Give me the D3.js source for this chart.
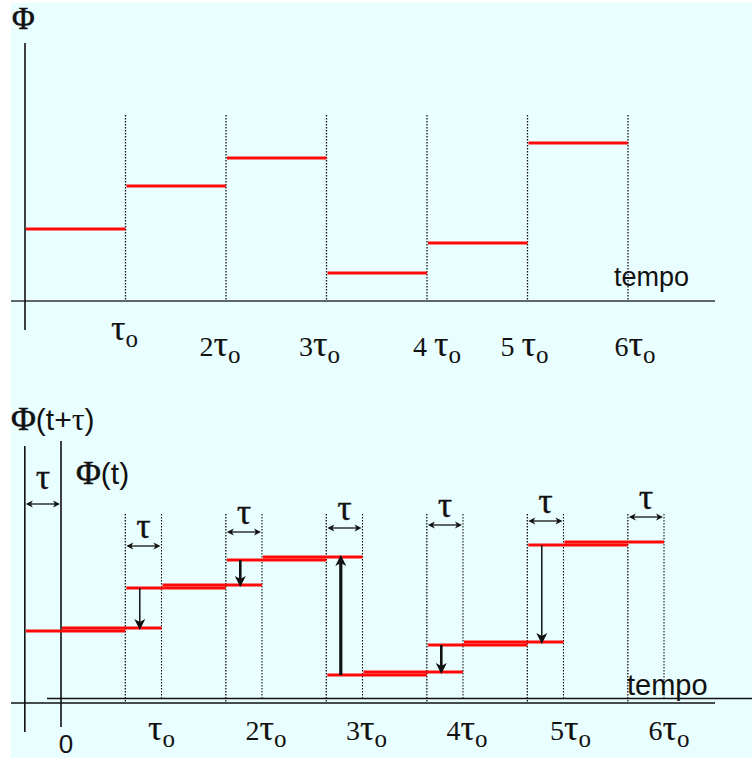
<!DOCTYPE html>
<html>
<head>
<meta charset="utf-8">
<script src="https://cdn.jsdelivr.net/npm/d3@7"></script>
<style>
  html, body { margin: 0; padding: 0; background: #ffffff; }
  svg { display: block; }
</style>
</head>
<body>
<svg id="chart" width="752" height="758"></svg>
<script>
// ---- data -------------------------------------------------------------
// Step signal Φ: one constant level per interval of length τo
const intervalStarts = [0, 1, 2, 3, 4, 5];            // in units of τo
const phiLevels      = [7.2, 11.5, 14.3, 2.8, 5.8, 15.8];
const tauShift       = 0.36;                          // delay τ, in units of τo
const topTickLabels    = ["τo", "2τo", "3τo", "4 τo", "5 τo", "6τo"];
const bottomTickLabels = ["τo", "2τo", "3τo", "4τo", "5τo", "6τo"];
const tickValues       = [1, 2, 3, 4, 5, 6];

// ---- layout -----------------------------------------------------------
const W = 752, H = 758;
const svg = d3.select("#chart");
const RED = "#ff0808";
const INK = "#111";
const serif = "'Liberation Serif', 'Times New Roman', serif";
const sans  = "'Liberation Sans', Arial, sans-serif";

svg.append("rect").attr("x", 11).attr("y", 3).attr("width", W - 11).attr("height", H - 3)
   .attr("fill", "#e9fefe");

// filled, slightly notched arrowhead with its tip at (x, y) pointing along angle
function arrowHead(g, x, y, angle, len, half) {
  const p = [[0, 0], [-len, -half], [-len * 0.72, 0], [-len, half]];
  const c = Math.cos(angle), s = Math.sin(angle);
  const pts = p.map(([u, v]) => [x + u * c - v * s, y + u * s + v * c]);
  g.append("path").attr("d", "M" + pts.map(q => q.join(",")).join("L") + "Z").attr("fill", INK);
}

// label such as "2τo": number, a large τ and a lowered o
function tickLabel(g, x, y, label) {
  const pre = label.slice(0, -2), tau = label.slice(-2, -1), sub = label.slice(-1);
  const t = g.append("text").attr("x", x).attr("y", y).attr("text-anchor", "middle")
    .attr("font-family", serif).attr("font-size", 28).attr("fill", INK);
  if (pre) t.append("tspan").text(pre);
  t.append("tspan").attr("font-size", 36).attr("stroke", INK).attr("stroke-width", 0.2).text(tau);
  t.append("tspan").attr("dy", 7).attr("font-size", 25).text(sub);
}

function phiGlyph(sel, size) {
  sel.append("tspan").attr("font-family", serif).attr("font-size", size)
    .attr("stroke", INK).attr("stroke-width", 0.6).text("Φ");
}

// ================= upper panel: Φ(t) =================
const upper = svg.append("g");
const xTop = d3.scaleLinear().domain([0, 6]).range([25, 628]);
const yTop = d3.scaleLinear().domain([0, 20]).range([301, 101]);

// dotted interval boundaries
upper.selectAll("line.bound").data(tickValues).join("line")
  .attr("x1", d => xTop(d)).attr("x2", d => xTop(d))
  .attr("y1", 115).attr("y2", yTop(0))
  .attr("stroke", INK).attr("stroke-width", 1.3).attr("stroke-dasharray", "1.5,1.5");

// axes
upper.append("line").attr("x1", 11).attr("x2", 715).attr("y1", yTop(0)).attr("y2", yTop(0))
  .attr("stroke", "#333").attr("stroke-width", 1.6);
upper.append("line").attr("x1", xTop(0)).attr("x2", xTop(0)).attr("y1", 43).attr("y2", 330)
  .attr("stroke", INK).attr("stroke-width", 1.6);

// step levels
upper.selectAll("line.level").data(intervalStarts).join("line")
  .attr("x1", (d) => xTop(d) + 1).attr("x2", d => xTop(d + 1))
  .attr("y1", (d, i) => yTop(phiLevels[i])).attr("y2", (d, i) => yTop(phiLevels[i]))
  .attr("stroke", RED).attr("stroke-width", 3);

// labels
phiGlyph(upper.append("text").attr("x", 12).attr("y", 29).attr("fill", INK), 31);
upper.append("text").attr("x", 614).attr("y", 286).attr("font-family", sans)
  .attr("font-size", 27).attr("fill", INK).text("tempo");

const topDx = [-1, -6, -7, 10, -3, 7];
const topDy = [-16, 0, 0, 0, 0, 0];
tickValues.forEach((v, i) =>
  tickLabel(upper, xTop(v) + topDx[i], 356 + topDy[i], topTickLabels[i]));

// ================= lower panel: Φ(t) and Φ(t+τ) =================
const lower = svg.append("g");
const xBot = d3.scaleLinear().domain([0, 6]).range([61, 664]);
const yShifted = d3.scaleLinear().domain([0, 20]).range([703, 503]);  // frame of Φ(t+τ)
const yOrig    = d3.scaleLinear().domain([0, 20]).range([700, 500]);  // frame of Φ(t)

// dotted boundaries: each change of Φ(t+τ) and, τ later, of Φ(t)
lower.selectAll("line.bs").data(tickValues).join("line")
  .attr("x1", d => xBot(d - tauShift)).attr("x2", d => xBot(d - tauShift))
  .attr("y1", 514).attr("y2", yShifted(0))
  .attr("stroke", INK).attr("stroke-width", 1.3).attr("stroke-dasharray", "1.5,1.5");
lower.selectAll("line.bo").data(tickValues).join("line")
  .attr("x1", d => xBot(d)).attr("x2", d => xBot(d))
  .attr("y1", 514).attr("y2", yOrig(0))
  .attr("stroke", INK).attr("stroke-width", 1.1).attr("stroke-dasharray", "1.5,1.5");

// axes of both frames
lower.append("line").attr("x1", 11).attr("x2", 715).attr("y1", yShifted(0)).attr("y2", yShifted(0))
  .attr("stroke", INK).attr("stroke-width", 1.6);
lower.append("line").attr("x1", 47).attr("x2", W).attr("y1", 698.5).attr("y2", 698.5)
  .attr("stroke", INK).attr("stroke-width", 1.6);
lower.append("line").attr("x1", xBot(-tauShift)).attr("x2", xBot(-tauShift)).attr("y1", 446).attr("y2", 732)
  .attr("stroke", INK).attr("stroke-width", 1.6);
lower.append("line").attr("x1", xBot(0)).attr("x2", xBot(0)).attr("y1", 441).attr("y2", 727)
  .attr("stroke", INK).attr("stroke-width", 1.6);

// Φ(t+τ): the same levels, moved τ earlier
lower.selectAll("line.ls").data(intervalStarts).join("line")
  .attr("x1", d => xBot(d - tauShift) + 1).attr("x2", d => xBot(d + 1 - tauShift))
  .attr("y1", (d, i) => yShifted(phiLevels[i])).attr("y2", (d, i) => yShifted(phiLevels[i]))
  .attr("stroke", RED).attr("stroke-width", 2.8);
// Φ(t)
lower.selectAll("line.lo").data(intervalStarts).join("line")
  .attr("x1", d => xBot(d) + 1).attr("x2", d => xBot(d + 1))
  .attr("y1", (d, i) => yOrig(phiLevels[i])).attr("y2", (d, i) => yOrig(phiLevels[i]))
  .attr("stroke", RED).attr("stroke-width", 2.8);

// vertical arrows: from Φ(t+τ) to Φ(t) inside each τ window
const jumpWidths = [1.5, 2.6, 3.2, 2.6, 1.5];
d3.range(1, 6).forEach((k, j) => {
  const x = xBot(k - tauShift * 0.6);
  const y0 = yShifted(phiLevels[k]);
  const y1 = yOrig(phiLevels[k - 1]);
  const dir = y1 > y0 ? 1 : -1;
  const tipY = y1 + dir * 2;
  const len = 11, half = 5.5;
  lower.append("line").attr("x1", x).attr("x2", x).attr("y1", y0).attr("y2", tipY - dir * len * 0.7)
    .attr("stroke", INK).attr("stroke-width", jumpWidths[j]);
  arrowHead(lower, x, tipY, dir > 0 ? Math.PI / 2 : -Math.PI / 2, len, half);
});

// τ brackets (double-headed) with labels
function tauBracket(xa, xb, y, labelDy) {
  const g = lower.append("g");
  g.append("line").attr("x1", xa + 3).attr("x2", xb - 3).attr("y1", y).attr("y2", y)
    .attr("stroke", INK).attr("stroke-width", 1.3);
  arrowHead(g, xa + 1, y, Math.PI, 7, 3.5);
  arrowHead(g, xb - 1, y, 0, 7, 3.5);
  g.append("text").attr("x", (xa + xb) / 2).attr("y", y - labelDy).attr("text-anchor", "middle")
    .attr("font-family", serif).attr("font-size", 36).attr("stroke", INK).attr("stroke-width", 0.3)
    .attr("fill", INK).text("τ");
}
tauBracket(xBot(-tauShift), xBot(0), 504, 15);
const bracketY = [546, 532, 528, 525, 521, 517];
tickValues.forEach((v, i) => tauBracket(xBot(v - tauShift), xBot(v), bracketY[i], 8));

// axis labels
const lab1 = lower.append("text").attr("x", 11).attr("y", 430).attr("fill", INK).attr("font-size", 30);
phiGlyph(lab1, 34);
lab1.append("tspan").attr("font-family", sans).text("(t+");
lab1.append("tspan").attr("font-family", serif).attr("font-size", 32).text("τ");
lab1.append("tspan").attr("font-family", sans).text(")");

const lab2 = lower.append("text").attr("x", 76).attr("y", 484).attr("fill", INK).attr("font-size", 30);
phiGlyph(lab2, 34);
lab2.append("tspan").attr("font-family", sans).text("(t)");

lower.append("text").attr("x", 627).attr("y", 695).attr("font-family", sans)
  .attr("font-size", 29).attr("fill", INK).text("tempo");
lower.append("text").attr("x", xBot(0) + 5).attr("y", 753).attr("text-anchor", "middle")
  .attr("font-family", sans).attr("font-size", 26).attr("fill", INK).text("0");

const botDx = [0, 4, 4, 4, 7, 5];
tickValues.forEach((v, i) =>
  tickLabel(lower, xBot(v) + botDx[i], 740, bottomTickLabels[i]));
</script>
</body>
</html>
